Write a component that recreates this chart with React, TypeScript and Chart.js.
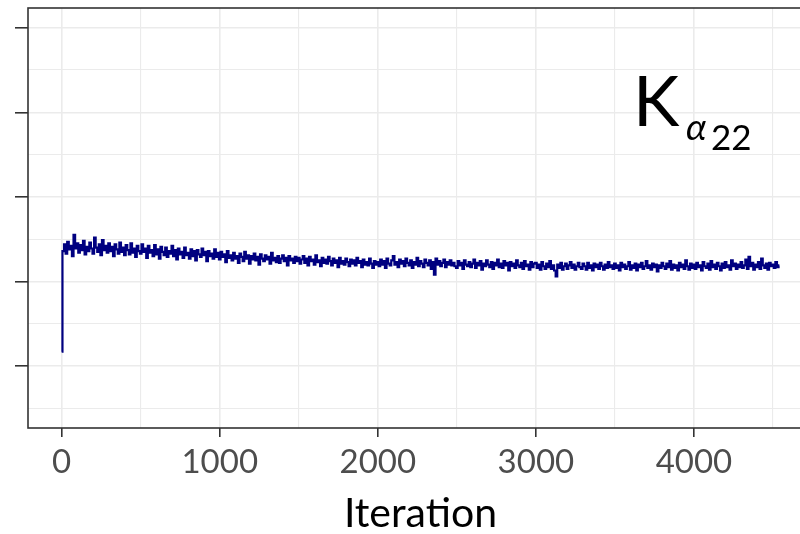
import React, { useEffect, useRef } from "react";
import { Chart, registerables } from "chart.js";

Chart.register(...registerables);

// Sampled trace of K_alpha22 (every 10th iteration)
const THIN = 10;
const traceStart = [1.17];
const trace10to490 = [
  2.36, 2.44, 2.33, 2.47, 2.38, 2.42, 2.30, 2.55, 2.39, 2.45,
  2.34, 2.43, 2.37, 2.48, 2.32, 2.41, 2.36, 2.46, 2.39, 2.33,
  2.52, 2.40, 2.35, 2.44, 2.31, 2.49, 2.37, 2.42, 2.34, 2.45,
  2.36, 2.41, 2.30, 2.44, 2.38, 2.33, 2.46, 2.35, 2.40, 2.31,
  2.43, 2.37, 2.32, 2.45, 2.34, 2.39, 2.29, 2.42, 2.36,
];
const trace500to990 = [
  2.33, 2.44, 2.35, 2.39, 2.28, 2.42, 2.34, 2.37, 2.30, 2.43,
  2.32, 2.38, 2.27, 2.41, 2.35, 2.31, 2.40, 2.29, 2.36, 2.33,
  2.42, 2.30, 2.37, 2.26, 2.39, 2.32, 2.35, 2.28, 2.40, 2.31,
  2.34, 2.27, 2.38, 2.30, 2.36, 2.25, 2.37, 2.32, 2.29, 2.39,
  2.31, 2.35, 2.24, 2.36, 2.30, 2.33, 2.27, 2.38, 2.29, 2.34,
];
const trace1000to1490 = [
  2.26, 2.35, 2.29, 2.32, 2.23, 2.36, 2.28, 2.31, 2.25, 2.34,
  2.27, 2.30, 2.22, 2.33, 2.29, 2.24, 2.35, 2.27, 2.31, 2.21,
  2.30, 2.26, 2.33, 2.25, 2.29, 2.20, 2.32, 2.27, 2.24, 2.31,
  2.26, 2.29, 2.21, 2.34, 2.25, 2.28, 2.23, 2.30, 2.22, 2.27,
  2.31, 2.24, 2.28, 2.19, 2.30, 2.25, 2.27, 2.22, 2.29, 2.24,
];
const trace1500to1990 = [
  2.28, 2.21, 2.26, 2.30, 2.22, 2.27, 2.19, 2.29, 2.24, 2.26,
  2.20, 2.31, 2.23, 2.25, 2.18, 2.28, 2.22, 2.26, 2.21, 2.29,
  2.24, 2.19, 2.27, 2.22, 2.25, 2.17, 2.28, 2.21, 2.24, 2.20,
  2.27, 2.23, 2.18, 2.26, 2.21, 2.25, 2.19, 2.28, 2.22, 2.24,
  2.17, 2.26, 2.20, 2.23, 2.19, 2.27, 2.21, 2.16, 2.24, 2.20,
];
const trace2000to2490 = [
  2.23, 2.18, 2.26, 2.20, 2.24, 2.16, 2.27, 2.21, 2.19, 2.25,
  2.30, 2.20, 2.23, 2.17, 2.26, 2.21, 2.24, 2.18, 2.27, 2.22,
  2.19, 2.25, 2.16, 2.23, 2.20, 2.28, 2.18, 2.24, 2.21, 2.17,
  2.26, 2.22, 2.19, 2.25, 2.15, 2.23, 2.08, 2.27, 2.20, 2.24,
  2.18, 2.22, 2.26, 2.17, 2.23, 2.20, 2.25, 2.19, 2.22, 2.18,
];
const trace2500to2990 = [
  2.16, 2.24, 2.19, 2.22, 2.15, 2.25, 2.20, 2.18, 2.23, 2.17,
  2.21, 2.26, 2.16, 2.22, 2.19, 2.24, 2.14, 2.21, 2.18, 2.25,
  2.20, 2.17, 2.23, 2.15, 2.22, 2.19, 2.26, 2.17, 2.21, 2.16,
  2.24, 2.19, 2.22, 2.13, 2.23, 2.18, 2.21, 2.16, 2.25, 2.19,
  2.17, 2.22, 2.15, 2.24, 2.18, 2.20, 2.14, 2.23, 2.17, 2.21,
];
const trace3000to3490 = [
  2.22, 2.16, 2.20, 2.14, 2.23, 2.18, 2.15, 2.21, 2.17, 2.24,
  2.15, 2.19, 2.13, 2.06, 2.20, 2.16, 2.22, 2.14, 2.18, 2.21,
  2.15, 2.19, 2.23, 2.16, 2.20, 2.14, 2.18, 2.22, 2.17, 2.15,
  2.21, 2.18, 2.14, 2.22, 2.16, 2.19, 2.13, 2.21, 2.17, 2.20,
  2.15, 2.22, 2.18, 2.14, 2.20, 2.16, 2.23, 2.17, 2.19, 2.15,
];
const trace3500to3990 = [
  2.21, 2.16, 2.19, 2.13, 2.22, 2.17, 2.20, 2.15, 2.18, 2.23,
  2.14, 2.19, 2.16, 2.21, 2.13, 2.20, 2.17, 2.22, 2.15, 2.18,
  2.24, 2.16, 2.19, 2.14, 2.21, 2.17, 2.20, 2.12, 2.19, 2.16,
  2.22, 2.18, 2.15, 2.21, 2.17, 2.24, 2.14, 2.20, 2.16, 2.19,
  2.13, 2.22, 2.17, 2.20, 2.15, 2.25, 2.18, 2.14, 2.21, 2.16,
];
const trace4000to4540 = [
  2.20, 2.15, 2.22, 2.17, 2.19, 2.13, 2.23, 2.18, 2.16, 2.21,
  2.14, 2.24, 2.17, 2.20, 2.15, 2.22, 2.18, 2.13, 2.21, 2.16,
  2.23, 2.17, 2.19, 2.14, 2.25, 2.18, 2.21, 2.15, 2.20, 2.17,
  2.23, 2.16, 2.19, 2.26, 2.15, 2.29, 2.18, 2.22, 2.14, 2.20,
  2.17, 2.23, 2.15, 2.27, 2.19, 2.16, 2.21, 2.14, 2.22, 2.18,
  2.20, 2.16, 2.23, 2.17, 2.19,
];

const xTickValues = [0, 500, 1000, 1500, 2000, 2500, 3000, 3500, 4000, 4500];
const yTickValues = [0.5, 1, 1.5, 2, 2.5, 3, 3.5, 4, 4.5, 5];
const X_MIN = -213;
const X_MAX = 4753;
const Y_MIN = 0.268;
const Y_MAX = 5.233;

const xTitle = "Iteration";
const panelLabelMain = "K";
const panelLabelSub = "α";
const panelLabelSubSub = "22";

const FONT = "Lato, 'Open Sans', 'DejaVu Sans', sans-serif";

export default function App() {
  const ref = useRef<HTMLCanvasElement | null>(null);

  useEffect(() => {
    const canvas = ref.current;
    if (!canvas) return;
    const trace = [
      ...traceStart,
      ...trace10to490,
      ...trace500to990,
      ...trace1000to1490,
      ...trace1500to1990,
      ...trace2000to2490,
      ...trace2500to2990,
      ...trace3000to3490,
      ...trace3500to3990,
      ...trace4000to4540,
    ];
    const points = trace.map((y, i) => ({ x: i * THIN, y }));

    const panelPlugin = {
      id: "panelDecor",
      afterDatasetsDraw(chart: any) {
        const { ctx, chartArea } = chart;
        ctx.save();
        ctx.strokeStyle = "#333333";
        ctx.lineWidth = 1.6;
        ctx.strokeRect(
          chartArea.left,
          chartArea.top,
          chartArea.right - chartArea.left,
          chartArea.bottom - chartArea.top
        );
        ctx.fillStyle = "#000000";
        ctx.textBaseline = "alphabetic";
        ctx.textAlign = "left";
        ctx.font = `70px ${FONT}`;
        ctx.fillText(panelLabelMain, 633, 126);
        ctx.font = `italic 37px ${FONT}`;
        ctx.fillText(panelLabelSub, 686, 140);
        ctx.font = `35px ${FONT}`;
        ctx.fillText(panelLabelSubSub, 711, 150);
        ctx.restore();
      },
    };

    const chart = new Chart(canvas, {
      type: "line",
      data: {
        datasets: [
          {
            data: points,
            borderColor: "#000080",
            borderWidth: 2.2,
            pointRadius: 0,
            stepped: "middle",
            fill: false,
          },
        ],
      },
      options: {
        animation: false,
        responsive: false,
        devicePixelRatio: 1,
        layout: { padding: { top: 8, right: 17, left: 0, bottom: 0 } },
        plugins: {
          legend: { display: false },
          tooltip: { enabled: false },
        },
        scales: {
          x: {
            type: "linear",
            min: X_MIN,
            max: X_MAX,
            afterBuildTicks: (scale: any) => {
              scale.ticks = xTickValues.map((v) => ({ value: v }));
            },
            afterFit: (scale: any) => {
              scale.height = 106;
            },
            border: { display: false },
            grid: {
              color: "#EBEBEB",
              lineWidth: (c: any) => (c.tick && c.tick.value % 1000 === 0 ? 1.6 : 1.1),
              tickColor: (c: any) =>
                c.tick && c.tick.value % 1000 === 0 ? "#333333" : "rgba(0,0,0,0)",
              tickWidth: 1.6,
              tickLength: 9,
              drawTicks: true,
            },
            ticks: {
              autoSkip: false,
              maxRotation: 0,
              padding: 6,
              color: "#4D4D4D",
              font: { family: FONT, size: 33 },
              callback: (v: any) => (Number(v) % 1000 === 0 ? String(v) : ""),
            },
            title: {
              display: true,
              text: xTitle,
              color: "#000000",
              font: { family: FONT, size: 41, lineHeight: 1 },
              padding: { top: 0, bottom: 0 },
            },
          },
          y: {
            type: "linear",
            min: Y_MIN,
            max: Y_MAX,
            afterBuildTicks: (scale: any) => {
              scale.ticks = yTickValues.map((v) => ({ value: v }));
            },
            afterFit: (scale: any) => {
              scale.width = 28;
            },
            border: { display: false },
            grid: {
              color: "#EBEBEB",
              lineWidth: (c: any) => (c.tick && Number.isInteger(c.tick.value) ? 1.6 : 1.1),
              tickColor: (c: any) =>
                c.tick && Number.isInteger(c.tick.value) ? "#333333" : "rgba(0,0,0,0)",
              tickWidth: 1.6,
              tickLength: 13,
              drawTicks: true,
            },
            ticks: { display: false },
          },
        },
      },
      plugins: [panelPlugin],
    } as any);

    return () => chart.destroy();
  }, []);

  return (
    <div
      style={{
        position: "fixed",
        left: 0,
        top: 0,
        width: 800,
        height: 534,
        overflow: "hidden",
        background: "#ffffff",
      }}
    >
      <canvas ref={ref} width={830} height={534} style={{ display: "block" }} />
    </div>
  );
}
